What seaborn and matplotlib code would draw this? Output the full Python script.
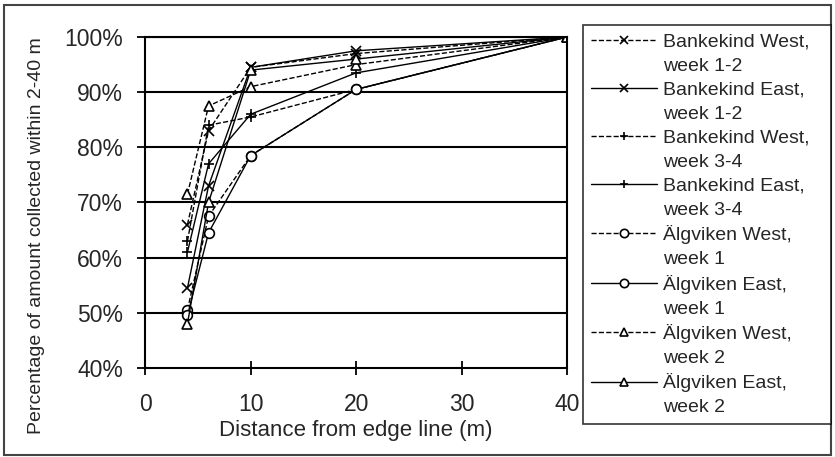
import matplotlib
matplotlib.use("Agg")
import matplotlib.pyplot as plt
from matplotlib.lines import Line2D
from matplotlib.patches import Rectangle
import seaborn as sns
import pandas as pd

sns.set_theme(style="white")
plt.rcParams['font.family'] = ['Liberation Sans', 'DejaVu Sans']

distance = [4, 6, 10, 20, 40]
series_names = [
    "Bankekind West, week 1-2",
    "Bankekind East, week 1-2",
    "Bankekind West, week 3-4",
    "Bankekind East, week 3-4",
    "Älgviken West, week 1",
    "Älgviken East, week 1",
    "Älgviken West, week 2",
    "Älgviken East, week 2",
]
bw12 = [66, 83, 94.5, 97, 100]
be12 = [54.5, 73, 94.5, 97.5, 100]
bw34 = [63, 84, 85.5, 90.5, 100]
be34 = [61, 77, 86, 93.5, 100]
aw1 = [50.5, 67.5, 78.5, 90.5, 100]
ae1 = [49.5, 64.5, 78.5, 90.5, 100]
aw2 = [71.5, 87.5, 91, 95, 100]
ae2 = [48, 70, 94, 96, 100]
values = [bw12, be12, bw34, be34, aw1, ae1, aw2, ae2]

linestyles = ['--', '-', '--', '-', '--', '-', '--', '-']
markers = ['x', 'x', '+', '+', 'o', 'o', '^', '^']

y_ticks = [40, 50, 60, 70, 80, 90, 100]
y_ticklabels = ["40%", "50%", "60%", "70%", "80%", "90%", "100%"]
x_ticks = [0, 10, 20, 30, 40]

fig = plt.figure(figsize=(8.35, 4.57), dpi=100)
ax = fig.add_axes([0.174, 0.195, 0.505, 0.724])

handles = []
for name, vals, ls, mk in zip(series_names, values, linestyles, markers):
    df = pd.DataFrame({"x": distance, "y": vals})
    sns.lineplot(data=df, x="x", y="y", ax=ax, color="black", linewidth=1.0,
                 linestyle=ls, marker=mk, markersize=7, markerfacecolor="white",
                 markeredgecolor="black", markeredgewidth=1.2)
    handles.append(Line2D([], [], color="black", linewidth=1.0, linestyle=ls,
                          marker=mk, markersize=6, markerfacecolor="white",
                          markeredgecolor="black", markeredgewidth=1.2))

ax.set_xlim(0, 40)
ax.set_ylim(40, 100)
ax.set_yticks(y_ticks)
ax.set_yticklabels(y_ticklabels)
ax.set_xticks(x_ticks)
ax.set_xticklabels([str(t) for t in x_ticks])
for t in y_ticks[1:]:
    ax.axhline(t, color="black", linewidth=1.5, zorder=0)
for s in ['left', 'right', 'bottom', 'top']:
    ax.spines[s].set_color("black")
    ax.spines[s].set_linewidth(1.5)
ax.tick_params(axis='y', direction='out', length=6, width=1.3, color='black',
               labelsize=16.5, pad=10, left=True)
ax.tick_params(axis='x', direction='inout', length=10, width=1.3, color='black',
               labelsize=16.5, pad=13, bottom=True)
ax.set_xlabel("Distance from edge line (m)", fontsize=16, labelpad=3)
ax.set_ylabel("Percentage of amount collected within 2-40 m", fontsize=14)
ax.yaxis.set_label_coords(-0.239, 0.40)

# legend: first line with handle, second line with blank handle
leg_handles = []
leg_labels = []
blank = Line2D([], [], linestyle='none', marker=None)
for h, name in zip(handles, series_names):
    first, second = name.split(", ")
    leg_handles += [h, blank]
    leg_labels += [first + ",", second]
leg = fig.legend(leg_handles, leg_labels, loc='upper left',
                 bbox_to_anchor=(0.698, 0.07, 0.297, 0.875), mode='expand',
                 fontsize=14, frameon=True,
                 fancybox=False, edgecolor='black', handlelength=3.4,
                 labelspacing=0.33, borderpad=0.4, handletextpad=0.3,
                 borderaxespad=0)
leg.get_frame().set_linewidth(1.2)

fig.patches.append(Rectangle((0.005, 0.005), 0.99, 0.985, transform=fig.transFigure,
                             fill=False, edgecolor='#444444', linewidth=1.5))

fig.savefig("out.png", dpi=100)
